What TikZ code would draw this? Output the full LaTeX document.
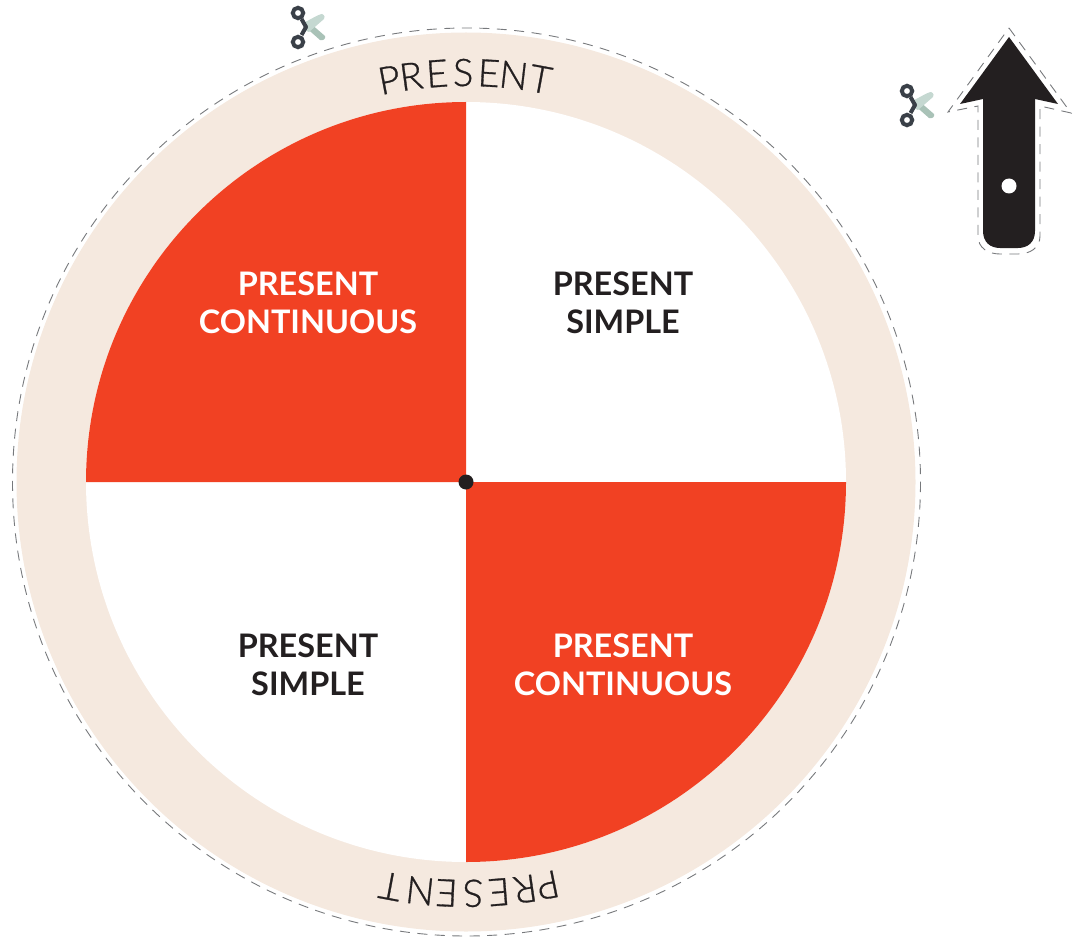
\documentclass[tikz,border=0pt]{standalone}
\usepackage{fontspec}
\usetikzlibrary{calc}
\setmainfont{Lato}
\newfontfamily\ringfont[FakeBold=0.8]{Lato Light}
\definecolor{beige}{HTML}{F5E9DF}
\definecolor{redq}{HTML}{F14123}
\definecolor{ink}{HTML}{231F20}
\definecolor{cutgray}{HTML}{77797C}
\definecolor{handle}{HTML}{3A4048}
\definecolor{bladeA}{HTML}{C5D8D1}
\definecolor{bladeB}{HTML}{A9C2B7}
\tikzset{
  x=1pt,y=-1pt,
  cutline/.style={draw=cutgray,line width=0.9pt,dash pattern=on 10pt off 7.5pt},
  quarter/.style={align=center,font=\fontsize{32.4}{38}\selectfont\bfseries,inner sep=0pt},
  ringletter/.style={font=\ringfont\fontsize{38}{38}\selectfont,text=ink,anchor=base,inner sep=0pt},
  scissorshandle/.style={draw=handle,line width=4pt},
}
\newcommand{\scissorsat}[2]{%
  \begin{scope}[shift={(#1,#2)}]
    \fill[bladeB] (-3,-2) -- (4,-4) -- (19,9) .. controls (20,12) and (17,14) .. (14,13) -- cycle;
    \fill[bladeA] (-3,-4) .. controls (2,-6) and (13,-13) .. (16,-13) .. controls (19,-12) and (19,-9) .. (18,-8) -- (3,5) -- (-2,3) -- cycle;
    \draw[scissorshandle] (0,0) -- (-4.5,-8);
    \draw[scissorshandle] (0,0) -- (-4.5,8);
    \draw[scissorshandle] (-8,-14) circle[radius=5.2];
    \draw[scissorshandle] (-8,15) circle[radius=5.2];
    \fill[handle] (0,0) circle[radius=2];
  \end{scope}}
\begin{document}
\begin{tikzpicture}
\useasboundingbox (0,0) rectangle (1075,941);
\coordinate (c) at (466,482);
% ring and cut line
\fill[beige] (c) circle[radius=449.5];
\draw[cutline] (466.5,482) circle[radius=454];
\fill[white] (c) circle[radius=380];
% red quarters (the y axis runs downward, so angles turn the other way)
\fill[redq] (c) -- (86,482) arc[start angle=180,end angle=270,radius=380] -- cycle;
\fill[redq] (c) -- (846,482) arc[start angle=0,end angle=90,radius=380] -- cycle;
\fill[ink] (c) circle[radius=7.5];
% quarter labels
\node[quarter,text=white] (tl) at (308,303) {PRESENT\\CONTINUOUS};
\node[quarter,text=ink] (tr) at (623,303) {PRESENT\\SIMPLE};
\node[quarter,text=ink] (bl) at (308,665) {PRESENT\\SIMPLE};
\node[quarter,text=white] (br) at (623,665) {PRESENT\\CONTINUOUS};
% ring text, top
\foreach \ang/\lett/\nm in {10.8/P/a,7.7/R/b,4.05/E/c,0.4/S/d,-3.2/E/e,-6.7/N/f,-10.5/T/g}{
  \pgfmathsetmacro{\px}{466-396*sin(\ang)}
  \pgfmathsetmacro{\py}{482-396*cos(\ang)}
  \node[ringletter,rotate=\ang] (top\nm) at (\px,\py) {\lett};
}
% ring text, bottom
\foreach \ang/\lett/\nm in {11.5/P/a,8.3/R/b,4.6/E/c,1.0/S/d,-2.7/E/e,-6.4/N/f,-10.6/T/g}{
  \pgfmathsetmacro{\qx}{466+398*sin(\ang)}
  \pgfmathsetmacro{\qy}{482+398*cos(\ang)}
  \node[ringletter,rotate=180+\ang] (bot\nm) at (\qx,\qy) {\lett};
}
% scissors
\scissorsat{306}{27}
\scissorsat{915}{105}
% arrow
\fill[ink] (1009,37) -- (1058,104) -- (1035,99) -- (1035,231)
  .. controls (1035,242) and (1028,248) .. (1018,248) -- (1000,248)
  .. controls (990,248) and (983,242) .. (983,231) -- (983,99) -- (960,104) -- cycle;
\fill[white] (1009,186) circle[radius=7.5];
\draw[cutline] (1009,28) -- (1071,113) -- (1040,106) -- (1040,236)
  .. controls (1040,248) and (1030,254) .. (1018,254) -- (1000,254)
  .. controls (988,254) and (978,248) .. (978,236) -- (978,106) -- (948,112) -- cycle;
\end{tikzpicture}
\end{document}
